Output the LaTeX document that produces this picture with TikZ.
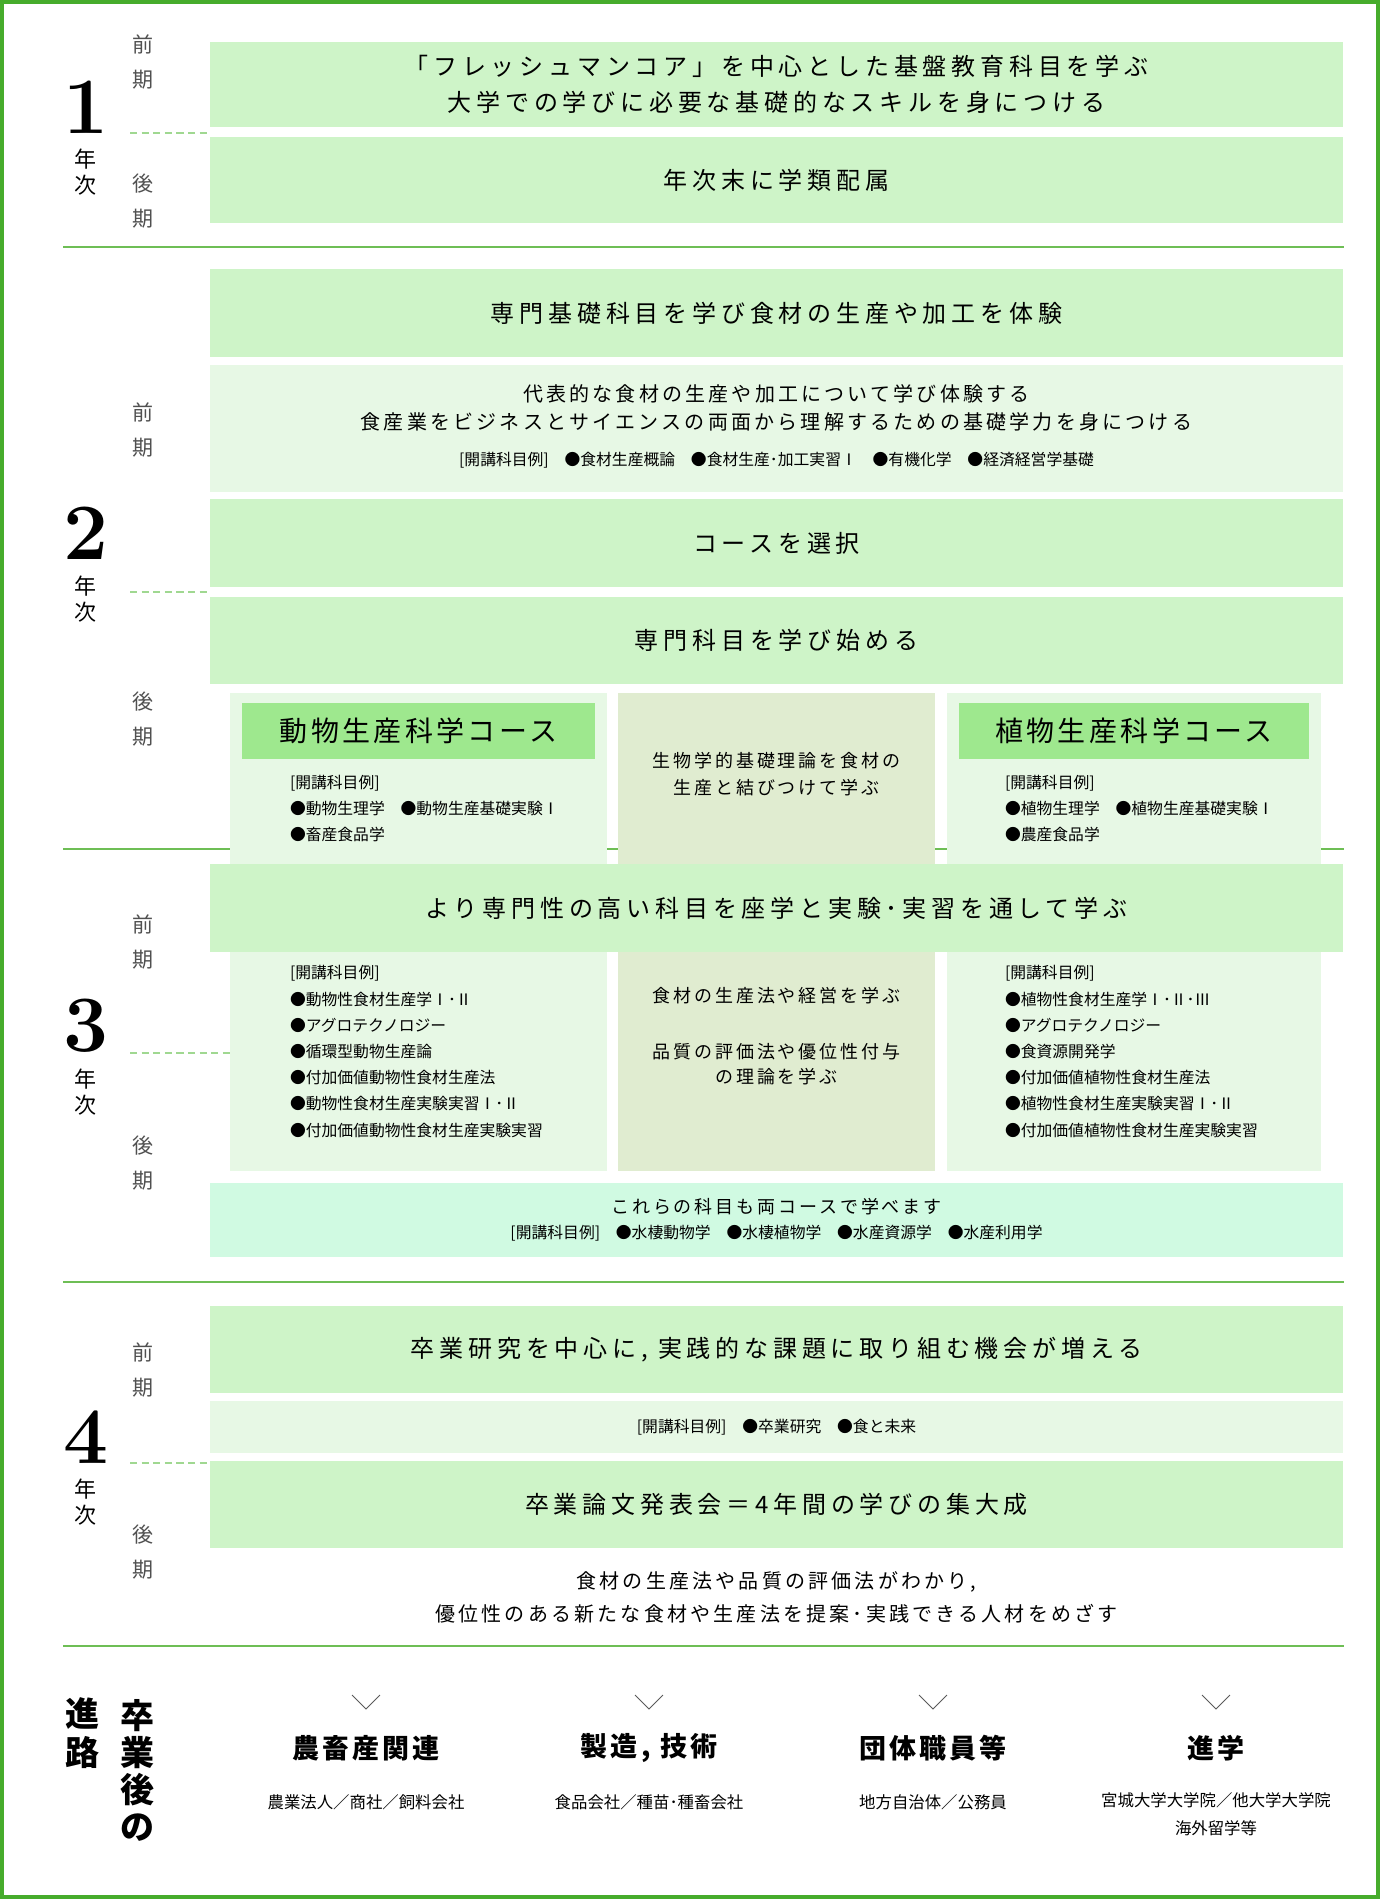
\documentclass[tikz,border=0pt]{standalone}
\usepackage{fontspec}
\newfontfamily\jp{Noto Sans CJK JP}
\newfontfamily\jpA[LetterSpace=20]{Noto Sans CJK JP}
\newfontfamily\jpB[LetterSpace=16]{Noto Sans CJK JP}
\newfontfamily\jpC[LetterSpace=12]{Noto Sans CJK JP}
\definecolor{border}{RGB}{70,172,44}
\definecolor{sepc}{RGB}{110,190,85}
\definecolor{dashc}{RGB}{160,216,145}
\definecolor{mainbox}{RGB}{206,244,200}
\definecolor{litebox}{RGB}{231,248,229}
\definecolor{headbox}{RGB}{158,232,142}
\definecolor{midbox}{RGB}{224,236,208}
\definecolor{mintbox}{RGB}{208,250,226}
\definecolor{labelgrey}{RGB}{80,80,80}
\definecolor{chev}{RGB}{90,90,90}
\begin{document}
\begin{tikzpicture}[x=0.5pt,y=-0.5pt,
  every node/.style={inner sep=0pt, outer sep=0pt},
  mainb/.style={fill=mainbox, minimum width=566.5pt, align=center, font=\jpA\fontsize{12}{18}\selectfont},
  liteb/.style={fill=litebox, minimum width=566.5pt},
  mintb/.style={fill=mintbox, minimum width=566.5pt},
  courseb/.style={fill=litebox, minimum height=239pt},
  midb/.style={fill=midbox, minimum width=158.5pt, minimum height=239pt},
  headb/.style={fill=headbox, minimum height=28pt, font=\jpC\fontsize{14}{14}\selectfont},
  numeral/.style={font=\bfseries\fontsize{40}{40}\selectfont},
  nenji/.style={font=\jp\fontsize{11}{13}\selectfont, align=center},
  term/.style={font=\jp\fontsize{10.5}{17.5}\selectfont, text=labelgrey, align=center},
  smalltxt/.style={font=\jp\fontsize{7.9}{13}\selectfont, align=left},
  midtxt/.style={font=\jpB\fontsize{9}{13.5}\selectfont, align=center},
  bodytxt/.style={font=\jpB\fontsize{10}{14}\selectfont, align=center},
  septline/.style={draw=sepc, line width=1pt},
  dashline/.style={draw=dashc, line width=0.8pt, dash pattern=on 3.6pt off 2.2pt},
  outcome/.style={font=\jpC\bfseries\fontsize{13.5}{13.5}\selectfont},
  outsub/.style={font=\jp\fontsize{8.2}{14}\selectfont, align=center},
  chevron/.style={draw=chev, line width=0.5pt}
]
\useasboundingbox (0,0) rectangle (1380,1899);
\fill[white] (0,0) rectangle (1380,1899);

% ---------- separator lines ----------
\coordinate (s1a) at (63,247);   \coordinate (s1b) at (1344,247);
\coordinate (s2a) at (63,849);   \coordinate (s2b) at (1344,849);
\coordinate (s3a) at (63,1282);  \coordinate (s3b) at (1344,1282);
\coordinate (s4a) at (63,1646);  \coordinate (s4b) at (1344,1646);
\draw[septline] (s1a) -- (s1b);
\draw[septline] (s2a) -- (s2b);
\draw[septline] (s3a) -- (s3b);
\draw[septline] (s4a) -- (s4b);

% ---------- dashed lines ----------
\coordinate (d1a) at (130,133);  \coordinate (d1b) at (210,133);
\coordinate (d2a) at (130,592);  \coordinate (d2b) at (210,592);
\coordinate (d3a) at (130,1053); \coordinate (d3b) at (230,1053);
\coordinate (d4a) at (130,1463); \coordinate (d4b) at (210,1463);
\draw[dashline] (d1a) -- (d1b);
\draw[dashline] (d2a) -- (d2b);
\draw[dashline] (d3a) -- (d3b);
\draw[dashline] (d4a) -- (d4b);

% ---------- year labels ----------
\node[numeral] (n1) at (86,107) {1};
\node[nenji] (y1) at (85,172) {年\\次};
\node[term] (t1a) at (143,62) {前\\期};
\node[term] (t1b) at (143,201) {後\\期};

\node[numeral] (n2) at (86,533) {2};
\node[nenji] (y2) at (85,599) {年\\次};
\node[term] (t2a) at (143,430) {前\\期};
\node[term] (t2b) at (143,719) {後\\期};

\node[numeral] (n3) at (86,1026) {3};
\node[nenji] (y3) at (85,1092) {年\\次};
\node[term] (t3a) at (143,942) {前\\期};
\node[term] (t3b) at (143,1163) {後\\期};

\node[numeral] (n4) at (86,1437) {4};
\node[nenji] (y4) at (85,1502) {年\\次};
\node[term] (t4a) at (143,1370) {前\\期};
\node[term] (t4b) at (143,1552) {後\\期};

% ---------- year 1 ----------
\node[mainb, minimum height=42.5pt] (b11) at (776.5,84.5)
  {「フレッシュマンコア」を中心とした基盤教育科目を学ぶ\\大学での学びに必要な基礎的なスキルを身につける};
\node[mainb, minimum height=43pt] (b12) at (776.5,180) {年次末に学類配属};

% ---------- year 2 ----------
\node[mainb, minimum height=44pt] (b21) at (776.5,313) {専門基礎科目を学び食材の生産や加工を体験};
\node[liteb, minimum height=63.5pt] (b22) at (776.5,428.5) {};
\node[bodytxt] (b22t) at (776.5,408) {代表的な食材の生産や加工について学び体験する\\食産業をビジネスとサイエンスの両面から理解するための基礎学力を身につける};
\node[smalltxt] (b22s) at (776.5,460) {[開講科目例]　●食材生産概論　●食材生産･加工実習Ⅰ　●有機化学　●経済経営学基礎};
\node[mainb, minimum height=44pt] (b23) at (776.5,543) {コースを選択};
\node[mainb, minimum height=43.5pt] (b24) at (776.5,640.5) {専門科目を学び始める};

% course columns
\node[courseb, minimum width=188.5pt] (cl) at (418.5,932) {};
\node[midb] (cm) at (776.5,932) {};
\node[courseb, minimum width=187pt] (cr) at (1134,932) {};

\node[headb, minimum width=176.5pt] (hl) at (418.5,731) {動物生産科学コース};
\node[headb, minimum width=175pt] (hr) at (1134,731) {植物生産科学コース};

\node[smalltxt, anchor=west] (l2) at (290,808)
  {[開講科目例]\\●動物生理学　●動物生産基礎実験Ⅰ\\●畜産食品学};
\node[smalltxt, anchor=west] (r2) at (1005,808)
  {[開講科目例]\\●植物生理学　●植物生産基礎実験Ⅰ\\●農産食品学};
\node[midtxt] (m2) at (776.5,774.5) {生物学的基礎理論を食材の\\生産と結びつけて学ぶ};

% ---------- year 3 ----------
\node[mainb, minimum height=44pt] (b31) at (776.5,908) {より専門性の高い科目を座学と実験･実習を通して学ぶ};
\node[smalltxt, anchor=west, font=\jp\fontsize{7.9}{13.1}\selectfont] (l3) at (290,1051.5)
  {[開講科目例]\\●動物性食材生産学Ⅰ･Ⅱ\\●アグロテクノロジー\\●循環型動物生産論\\●付加価値動物性食材生産法\\●動物性食材生産実験実習Ⅰ･Ⅱ\\●付加価値動物性食材生産実験実習};
\node[smalltxt, anchor=west, font=\jp\fontsize{7.9}{13.1}\selectfont] (r3) at (1005,1051.5)
  {[開講科目例]\\●植物性食材生産学Ⅰ･Ⅱ･Ⅲ\\●アグロテクノロジー\\●食資源開発学\\●付加価値植物性食材生産法\\●植物性食材生産実験実習Ⅰ･Ⅱ\\●付加価値植物性食材生産実験実習};
\node[midtxt] (m3a) at (776.5,996) {食材の生産法や経営を学ぶ};
\node[midtxt, font=\jpB\fontsize{9}{12.5}\selectfont] (m3b) at (776.5,1064.5) {品質の評価法や優位性付与\\の理論を学ぶ};

\node[mintb, minimum height=37pt] (b32) at (776.5,1220) {};
\node[midtxt] (b32t) at (776.5,1207) {これらの科目も両コースで学べます};
\node[smalltxt] (b32s) at (776.5,1233) {[開講科目例]　●水棲動物学　●水棲植物学　●水産資源学　●水産利用学};

% ---------- year 4 ----------
\node[mainb, minimum height=43.5pt] (b41) at (776.5,1349.5) {卒業研究を中心に, 実践的な課題に取り組む機会が増える};
\node[liteb, minimum height=26pt] (b42) at (776.5,1427) {};
\node[smalltxt] (b42t) at (776.5,1427) {[開講科目例]　●卒業研究　●食と未来};
\node[mainb, minimum height=43.5pt] (b43) at (776.5,1504.5) {卒業論文発表会＝4年間の学びの集大成};
\node[bodytxt, font=\jpB\fontsize{10}{16.5}\selectfont] (goal) at (776.5,1597.5)
  {食材の生産法や品質の評価法がわかり,\\優位性のある新たな食材や生産法を提案･実践できる人材をめざす};

% ---------- after graduation ----------
\node[font=\jp\bfseries\fontsize{17}{19.5}\selectfont, align=center] (shinro) at (82,1733) {進\\路};
\node[font=\jp\bfseries\fontsize{17}{18.5}\selectfont, align=center] (sotsu) at (137,1770) {卒\\業\\後\\の};

\node[outcome] (o1) at (366,1748) {農畜産関連};
\node[outcome] (o2) at (649,1748) {製造, 技術};
\node[outcome] (o3) at (933,1748) {団体職員等};
\node[outcome] (o4) at (1216,1748) {進学};

\node[outsub] (o1s) at (366,1802) {農業法人／商社／飼料会社};
\node[outsub] (o2s) at (649,1802) {食品会社／種苗･種畜会社};
\node[outsub] (o3s) at (933,1802) {地方自治体／公務員};
\node[outsub, anchor=north] (o4s) at (1216,1793) {宮城大学大学院／他大学大学院\\海外留学等};

\foreach \cx in {366,649,933,1216}{
  \draw[chevron] (\cx-14,1695) -- (\cx,1709) -- (\cx+14,1695);
}

% ---------- outer border ----------
\draw[draw=border, line width=2pt] (2,2) rectangle (1378,1897);
\end{tikzpicture}
\end{document}
